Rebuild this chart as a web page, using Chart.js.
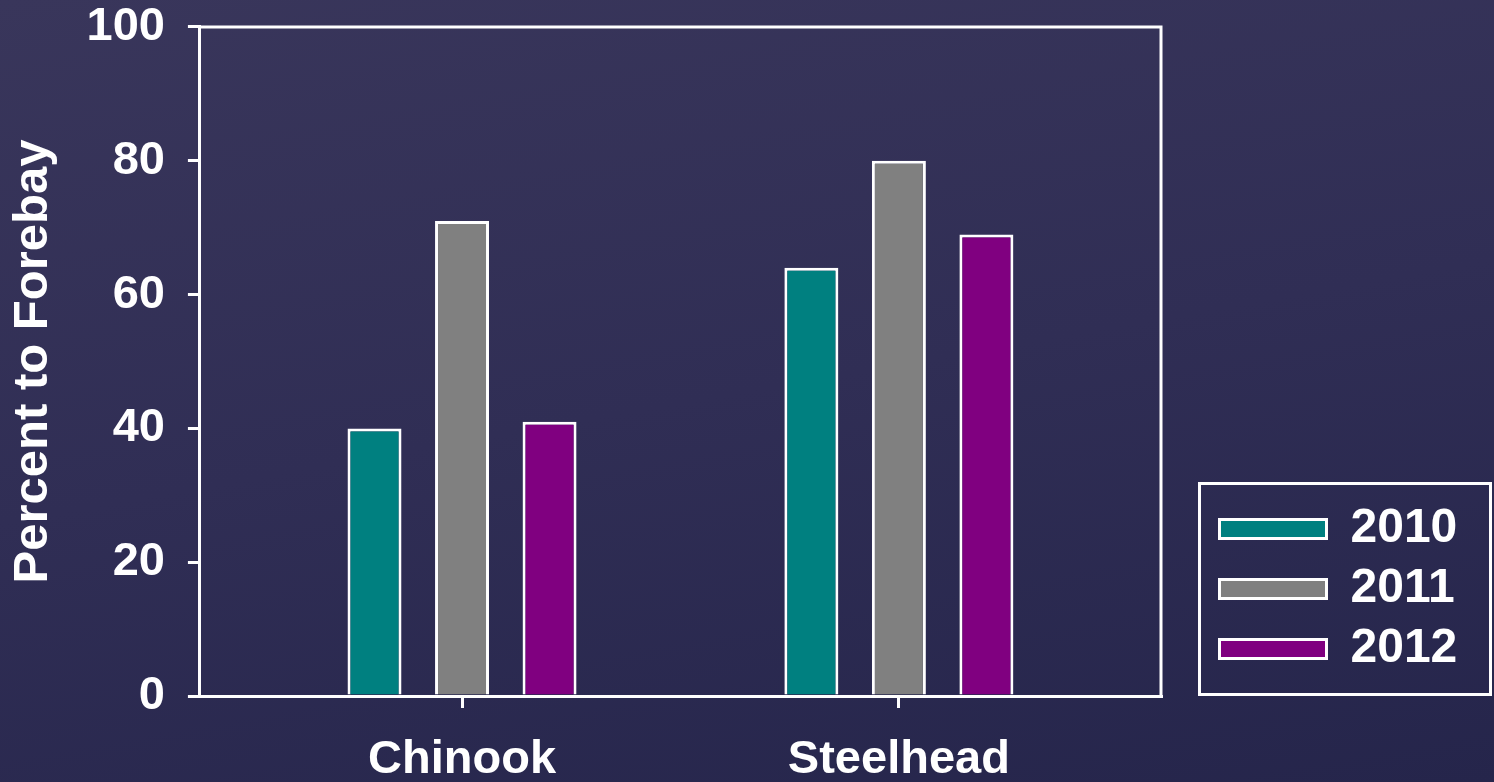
<!DOCTYPE html>
<html>
<head>
<meta charset="utf-8">
<title>Percent to Forebay</title>
<script src="https://cdn.jsdelivr.net/npm/chart.js@4.4.1/dist/chart.umd.min.js"></script>
<style>
  html, body {
    margin: 0;
    padding: 0;
    width: 1494px;
    height: 782px;
    overflow: hidden;
    background: linear-gradient(170deg, #39365b 0%, #302e55 50%, #25254b 100%);
  }
  canvas { display: block; }
</style>
</head>
<body>
<canvas id="chart" width="1494" height="782"></canvas>
<script>
// Fish passage to forebay, by species and year
const categories = ['Chinook', 'Steelhead'];
const years = ['2010', '2011', '2012'];
const values2010 = [40, 64];
const values2011 = [71, 80];
const values2012 = [41, 69];
const yTicks = [0, 20, 40, 60, 80, 100];
const yTitle = 'Percent to Forebay';
const seriesColors = ['#008080', '#808080', '#800080'];

const FONT = '"Liberation Sans", Arial, Helvetica, sans-serif';
const WHITE = '#ffffff';

const seriesValues = [values2010, values2011, values2012];
const datasets = years.map((year, s) => ({
  label: year,
  data: seriesValues[s].map((v, i) => ({ x: i, y: v })),
  backgroundColor: seriesColors[s],
  borderColor: WHITE,
  borderWidth: 3,
  categoryPercentage: 0.601,
  barPercentage: 0.617
}));

// Top and right edges of the plot frame
const frameLines = {
  id: 'frameLines',
  afterDatasetsDraw(chart) {
    const { ctx, chartArea: a } = chart;
    ctx.save();
    ctx.strokeStyle = WHITE;
    ctx.lineWidth = 3;
    ctx.beginPath();
    ctx.moveTo(a.left, a.top);
    ctx.lineTo(a.right, a.top);
    ctx.lineTo(a.right, a.bottom);
    ctx.stroke();
    ctx.restore();
  }
};

// Place the legend at the lower right and box it in
const legendBox = {
  id: 'legendBox',
  afterLayout(chart) {
    const lg = chart.legend;
    const w = lg.width;
    lg.left = 1207.5;
    lg.right = lg.left + w;
    lg.top = 493;
    lg.bottom = lg.top + 400;
  },
  afterDraw(chart) {
    const { ctx } = chart;
    const lg = chart.legend;
    ctx.save();
    ctx.strokeStyle = WHITE;
    ctx.lineWidth = 3;
    ctx.strokeRect(lg.left - 8, lg.top - 9.5, 291, 211);
    ctx.restore();
  }
};

new Chart(document.getElementById('chart'), {
  type: 'bar',
  data: { datasets },
  plugins: [frameLines, legendBox],
  options: {
    responsive: false,
    animation: false,
    devicePixelRatio: 1,
    layout: { padding: { left: 0, top: 0, right: 333, bottom: -31 } },
    plugins: {
      tooltip: { enabled: false },
      legend: {
        position: 'chartArea',
        align: 'start',
        labels: {
          color: WHITE,
          boxWidth: 107,
          boxHeight: 19,
          padding: 12,
          font: { family: FONT, size: 48, weight: 'bold' }
        }
      }
    },
    scales: {
      x: {
        type: 'linear',
        min: -0.6,
        max: 1.6,
        offset: false,
        afterBuildTicks(scale) {
          scale.ticks = categories.map((c, i) => ({ value: i }));
        },
        ticks: {
          color: WHITE,
          padding: 29,
          autoSkip: false,
          maxRotation: 0,
          font: { family: FONT, size: 47, weight: 'bold', lineHeight: 1 },
          callback: (v) => categories[v]
        },
        grid: {
          offset: false,
          drawOnChartArea: false,
          drawTicks: true,
          tickLength: 12,
          color: WHITE,
          lineWidth: 3
        },
        border: { display: true, color: WHITE, width: 3 }
      },
      y: {
        min: 0,
        max: 100,
        afterBuildTicks(scale) {
          scale.ticks = yTicks.map(v => ({ value: v }));
        },
        ticks: {
          color: WHITE,
          padding: 23,
          font: { family: FONT, size: 47, weight: 'bold', lineHeight: 0.17 }
        },
        grid: {
          drawOnChartArea: false,
          drawTicks: true,
          tickLength: 12,
          color: WHITE,
          lineWidth: 3
        },
        border: { display: true, color: WHITE, width: 3 },
        title: {
          display: true,
          text: yTitle,
          color: WHITE,
          padding: { top: 8.5, bottom: 6 },
          font: { family: FONT, size: 49, weight: 'bold', lineHeight: 1 }
        }
      }
    }
  }
});
</script>
</body>
</html>
